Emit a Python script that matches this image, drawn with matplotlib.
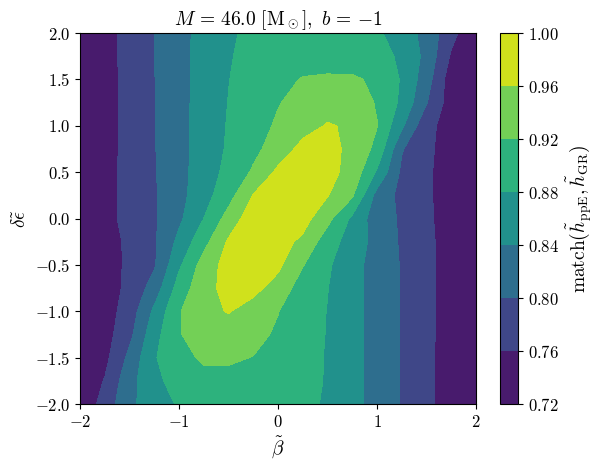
import numpy as np
import matplotlib
matplotlib.use("Agg")
import matplotlib.pyplot as plt

plt.rcParams['font.family'] = 'serif'
plt.rcParams['font.serif'] = ['cmr10']
plt.rcParams['mathtext.fontset'] = 'cm'
plt.rcParams['axes.formatter.use_mathtext'] = True

# grid of the scan
beta = [-2.0, -1.75, -1.5, -1.25, -1.0, -0.75, -0.5, -0.25, 0.0,
        0.25, 0.5, 0.75, 1.0, 1.25, 1.5, 1.75, 2.0]
deps = [2.0, 1.75, 1.5, 1.25, 1.0, 0.75, 0.5, 0.25, 0.0,
        -0.25, -0.5, -0.75, -1.0, -1.25, -1.5, -1.75, -2.0]

# match values, one row per delta-eps (top to bottom), columns follow beta
match = [
    [0.725, 0.746, 0.773, 0.800, 0.828, 0.852, 0.875, 0.888, 0.895, 0.900, 0.903, 0.900, 0.886, 0.860, 0.827, 0.773, 0.725],
    [0.725, 0.746, 0.773, 0.800, 0.828, 0.855, 0.877, 0.892, 0.900, 0.905, 0.907, 0.905, 0.895, 0.873, 0.829, 0.755, 0.725],
    [0.726, 0.745, 0.772, 0.799, 0.828, 0.854, 0.879, 0.898, 0.910, 0.922, 0.924, 0.924, 0.915, 0.876, 0.818, 0.738, 0.724],
    [0.727, 0.745, 0.772, 0.799, 0.828, 0.855, 0.881, 0.902, 0.918, 0.932, 0.942, 0.940, 0.917, 0.872, 0.802, 0.740, 0.723],
    [0.728, 0.746, 0.771, 0.798, 0.828, 0.856, 0.883, 0.905, 0.925, 0.945, 0.963, 0.955, 0.921, 0.847, 0.770, 0.745, 0.724],
    [0.728, 0.747, 0.771, 0.798, 0.828, 0.857, 0.885, 0.910, 0.938, 0.972, 0.975, 0.948, 0.910, 0.803, 0.767, 0.745, 0.724],
    [0.728, 0.748, 0.771, 0.797, 0.828, 0.858, 0.892, 0.925, 0.968, 0.985, 0.972, 0.947, 0.875, 0.792, 0.765, 0.745, 0.724],
    [0.728, 0.748, 0.771, 0.796, 0.827, 0.865, 0.905, 0.962, 0.990, 0.985, 0.962, 0.925, 0.825, 0.789, 0.765, 0.745, 0.724],
    [0.729, 0.749, 0.771, 0.795, 0.832, 0.880, 0.935, 0.985, 0.990, 0.975, 0.932, 0.872, 0.818, 0.795, 0.766, 0.745, 0.725],
    [0.729, 0.742, 0.768, 0.795, 0.850, 0.907, 0.965, 0.985, 0.975, 0.952, 0.898, 0.862, 0.826, 0.795, 0.768, 0.745, 0.726],
    [0.729, 0.741, 0.768, 0.795, 0.873, 0.937, 0.976, 0.985, 0.968, 0.922, 0.886, 0.852, 0.826, 0.797, 0.768, 0.745, 0.726],
    [0.730, 0.742, 0.769, 0.817, 0.897, 0.947, 0.972, 0.970, 0.945, 0.900, 0.881, 0.852, 0.826, 0.798, 0.768, 0.745, 0.726],
    [0.730, 0.742, 0.778, 0.848, 0.917, 0.950, 0.962, 0.945, 0.921, 0.897, 0.879, 0.851, 0.826, 0.797, 0.768, 0.745, 0.726],
    [0.731, 0.744, 0.789, 0.866, 0.918, 0.935, 0.940, 0.930, 0.915, 0.898, 0.878, 0.852, 0.826, 0.797, 0.768, 0.745, 0.726],
    [0.732, 0.749, 0.810, 0.877, 0.905, 0.927, 0.925, 0.919, 0.910, 0.895, 0.877, 0.852, 0.826, 0.797, 0.768, 0.744, 0.726],
    [0.733, 0.762, 0.826, 0.871, 0.895, 0.905, 0.910, 0.908, 0.903, 0.893, 0.877, 0.852, 0.826, 0.797, 0.768, 0.744, 0.726],
    [0.726, 0.777, 0.831, 0.861, 0.884, 0.895, 0.900, 0.900, 0.897, 0.890, 0.875, 0.852, 0.825, 0.797, 0.768, 0.744, 0.726],
]

levels = [0.72, 0.76, 0.80, 0.84, 0.88, 0.92, 0.96, 1.00]

fig = plt.figure(figsize=(5.98, 4.67), dpi=100)
ax = fig.add_axes([0.1338, 0.1349, 0.6622, 0.7944])
cax = fig.add_axes([0.836, 0.1349, 0.030, 0.7944])

B, E = np.meshgrid(beta, deps)
cs = ax.contourf(B, E, np.array(match), levels=levels, cmap='viridis')

ax.set_xlim(-2, 2)
ax.set_ylim(-2, 2)
ax.set_xticks([-2, -1, 0, 1, 2])
ax.set_yticks([-2.0, -1.5, -1.0, -0.5, 0.0, 0.5, 1.0, 1.5, 2.0])
ax.set_yticklabels(['$-2.0$', '$-1.5$', '$-1.0$', '$-0.5$', '$0.0$',
                    '$0.5$', '$1.0$', '$1.5$', '$2.0$'])
ax.tick_params(labelsize=12)
ax.set_xlabel(r'$\tilde{\beta}$', fontsize=14)
ax.set_ylabel(r'$\delta\tilde{\epsilon}$', fontsize=14)
ax.set_title(r'$M \,=\, 46.0\ [\mathrm{M}_\odot],\ b \,=\, {-1}$', fontsize=14)

cb = fig.colorbar(cs, cax=cax)
cb.set_ticks(levels)
cb.set_ticklabels(['$%.2f$' % v for v in levels])
cb.ax.tick_params(labelsize=12)
cb.set_label(r'$\mathrm{match}(\tilde{h}_{\rm ppE}, \tilde{h}_{\rm GR})$', fontsize=14)

fig.savefig('out.png', dpi=100)
